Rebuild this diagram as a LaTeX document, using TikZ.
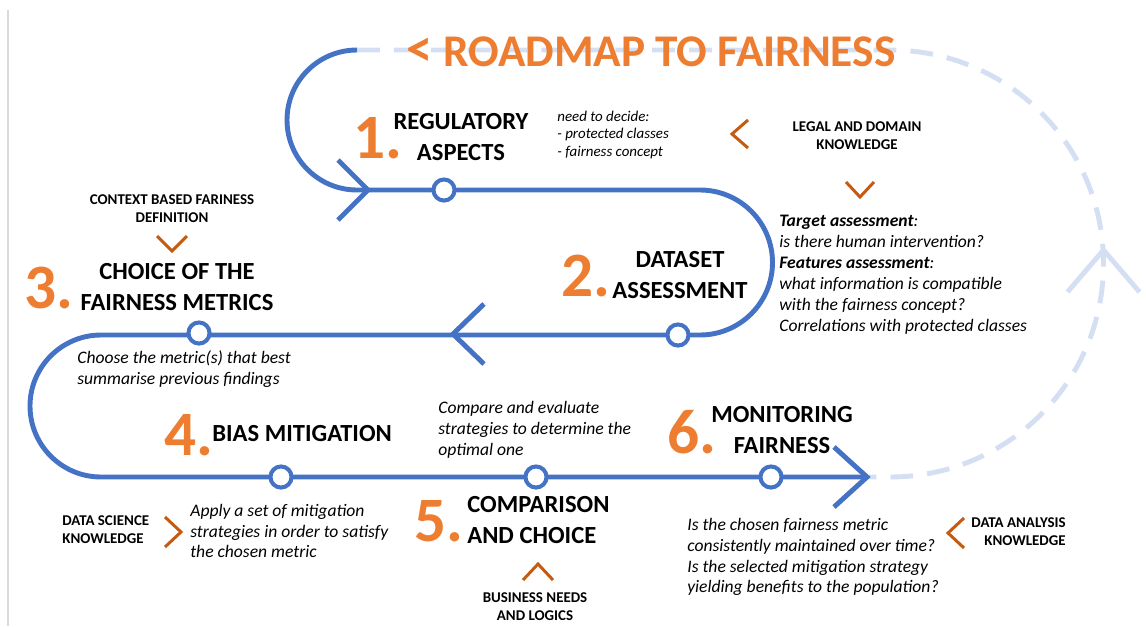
\documentclass[tikz,border=0pt]{standalone}
\usepackage{fontspec}
\setmainfont{Carlito}
\definecolor{trackblue}{HTML}{4472C4}
\definecolor{paleblue}{HTML}{D5DFF3}
\definecolor{steporange}{HTML}{ED7D31}
\definecolor{hintorange}{HTML}{C55A11}
\tikzstyle{track}=[draw=trackblue,line width=2.8pt]
\tikzstyle{returntrack}=[draw=paleblue,line width=2.8pt,dash pattern=on 13pt off 8pt]
\tikzstyle{station}=[circle,draw=trackblue,fill=white,line width=2.3pt,minimum size=12pt,inner sep=0pt]
\tikzstyle{stepnum}=[text=steporange,inner sep=0pt,font=\fontsize{36}{36}\selectfont\bfseries]
\tikzstyle{steptitle}=[inner sep=0pt,align=center,font=\fontsize{14}{17.5}\selectfont\bfseries]
\tikzstyle{note}=[inner sep=0pt,align=left,font=\fontsize{10}{11.9}\selectfont\itshape]
\tikzstyle{smallnote}=[inner sep=0pt,align=left,font=\fontsize{8.5}{9.9}\selectfont\itshape]
\tikzstyle{hint}=[inner sep=0pt,align=center,font=\fontsize{8.5}{10.2}\selectfont\bfseries]
\tikzstyle{hintmark}=[draw=hintorange,line width=1.7pt]
\newcommand{\drawchevron}[6]{
% tip at (#1,#2), turned by #3, depth #4, half width #5
\draw[#6,shift={(#1,#2)},rotate=#3] (-#4,-#5) -- (0,0) -- (-#4,#5);
}

\begin{document}
\begin{tikzpicture}[x=0.02cm,y=-0.02cm]
\useasboundingbox (0,0) rectangle (1146,626);
\draw[gray!30,line width=0.6pt] (8,10) -- (8,626);
% way back to the start
\draw[returntrack] (357,50) -- (890,50) arc[start angle=-90,end angle=90,radius=213.5] -- (867,477);
\drawchevron{1103.5}{250}{90}{42}{36}{draw=paleblue,line width=2.8pt}
% main route
\draw[track] (357,50) arc[start angle=270,end angle=90,radius=70] -- (700,190)
  arc[start angle=-90,end angle=90,radius=72.5] -- (101,335)
  arc[start angle=270,end angle=90,radius=71] -- (867,477);
\drawchevron{368}{190}{0}{30}{30}{track}
\drawchevron{453}{334}{180}{31}{30}{track}
\drawchevron{867}{477}{0}{33}{30}{track}
% stations
\foreach \name/\x/\y in {s1/444/190,s2/678/335,s3/199/333,s4/281/477,s5/536/477,s6/771/477}
  \node[station] (\name) at (\x,\y) {};
\node[text=steporange,font=\fontsize{25.8}{26}\selectfont\bfseries,inner sep=0pt] (title) at (651,52) {{\fontsize{30}{30}\selectfont<} ROADMAP TO FAIRNESS};
% 1
\node[stepnum] (n1) at (378,138) {1.};
\node[steptitle] (t1) at (461,137) {REGULATORY\\ASPECTS};
\node[smallnote,anchor=west] (d1) at (557,135) {need to decide:\\- protected classes\\- fairness concept};
\node[hint] (h1) at (857,136) {LEGAL AND DOMAIN\\KNOWLEDGE};
\drawchevron{732}{134}{180}{16}{14}{hintmark}
\drawchevron{860}{197}{-90}{15}{14}{hintmark}
% 2
\node[stepnum] (n2) at (586,276) {2.};
\node[steptitle] (t2) at (680,275) {DATASET\\ASSESSMENT};
\node[note,anchor=west] (d2) at (779,274.5) {\textbf{Target assessment}:\\is there human intervention?\\\textbf{Features assessment}:\\what information is compatible\\with the fairness concept?\\Correlations with protected classes};
% 3
\node[hint] (h3) at (172,209) {CONTEXT BASED FARINESS\\DEFINITION};
\drawchevron{172}{251}{-90}{15}{15}{hintmark}
\node[stepnum] (n3) at (49,288) {3.};
\node[steptitle] (t3) at (177,287) {CHOICE OF THE\\FAIRNESS METRICS};
\node[note,anchor=west] (d3) at (77,369) {Choose the metric(s) that best\\summarise previous findings};
% 4
\node[stepnum] (n4) at (189,435) {4.};
\node[steptitle,anchor=west] (t4) at (212,434) {BIAS MITIGATION};
\node[hint,anchor=west,align=left] (h4) at (62,530) {DATA SCIENCE\\KNOWLEDGE};
\drawchevron{181}{532}{0}{16}{15}{hintmark}
\node[note,anchor=west] (d4) at (190,531) {Apply a set of mitigation\\strategies in order to satisfy\\the chosen metric};
% 5
\node[note,anchor=west] (d5) at (438,430) {Compare and evaluate\\strategies to determine the\\optimal one};
\node[stepnum] (n5) at (439,521) {5.};
\node[steptitle,anchor=west,align=left] (t5) at (467,520) {COMPARISON\\AND CHOICE};
\drawchevron{538}{564}{90}{16}{15}{hintmark}
\node[hint] (h5) at (535,607) {BUSINESS NEEDS\\AND LOGICS};
% 6
\node[stepnum] (n6) at (692,432) {6.};
\node[steptitle] (t6) at (782,430) {MONITORING\\FAIRNESS};
\node[note,anchor=west] (d6) at (687,557) {Is the chosen fairness metric\\consistently maintained over time?\\Is the selected mitigation strategy\\yielding benefits to the population?};
\node[hint,anchor=east,align=right] (h6) at (1066,532) {DATA ANALYSIS\\KNOWLEDGE};
\drawchevron{948}{533}{180}{16}{15}{hintmark}
\end{tikzpicture}
\end{document}
